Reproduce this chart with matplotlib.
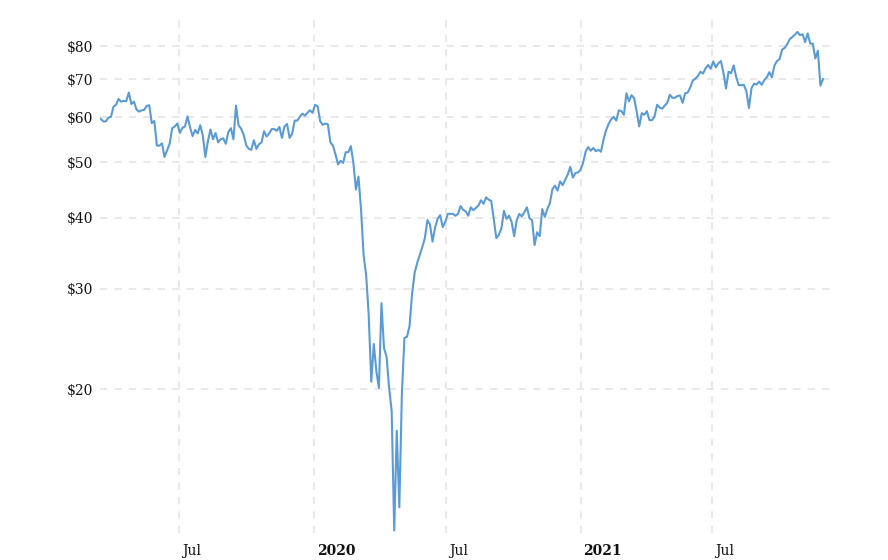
import numpy as np
import pandas as pd
import matplotlib
matplotlib.use('Agg')
import matplotlib.pyplot as plt
import matplotlib.dates as mdates
import matplotlib.ticker as mticker
from matplotlib.transforms import ScaledTranslation


## Data ==============================================
# WTI crude price (USD/bbl), one reading every 3.5 days (Fri, Mon/Tue)
start_date = '2019-03-15'

price_2019 = [59.6, 59.0, 59.0, 59.9, 60.1, 62.6, 63.1, 64.6, 63.9, 64.1,
              64.0, 66.3, 63.3, 63.9, 61.9, 61.4, 61.7, 61.8, 62.8, 63.0,
              58.6, 59.1, 53.5, 53.5, 54.0, 51.1, 52.5, 53.9, 57.4, 57.8,
              58.5, 56.3, 57.5, 57.8, 60.2, 57.6, 55.6, 57.0, 56.2, 58.1,
              55.7, 51.1, 54.5, 57.1, 54.9, 56.3, 54.2, 54.9, 55.1, 53.9,
              56.5, 57.4, 54.9, 62.9, 58.1, 57.3, 55.9, 53.6, 52.8, 52.6,
              54.7, 52.8, 53.8, 54.2, 56.7, 55.5, 56.2, 57.2, 57.2, 56.8,
              57.7, 55.2, 57.8, 58.4, 55.2, 56.1, 59.2, 59.2, 60.1, 60.9,
              60.4, 61.1, 61.7, 61.1]

price_2020 = [63.1, 62.7, 59.0, 58.2, 58.5, 58.3, 54.2, 53.5, 51.6, 49.6,
              50.3, 49.9, 52.1, 52.1, 53.4, 49.9, 44.8, 47.2, 41.3, 34.4,
              31.7, 27.0, 20.6, 24.0, 21.5, 20.1, 28.3, 23.6, 22.8, 20.1,
              18.3, 11.3, 16.9, 12.4, 19.6, 24.6, 24.7, 25.8, 29.4, 32.0,
              33.3, 34.4, 35.5, 36.8, 39.6, 38.9, 36.3, 38.4, 39.8, 40.4,
              38.5, 39.3, 40.6, 40.6, 40.6, 40.3, 40.6, 41.9, 41.3, 41.0,
              40.3, 41.7, 41.2, 41.6, 42.0, 42.9, 42.3, 43.4, 43.0, 42.8,
              39.8, 36.8, 37.3, 38.3, 41.1, 39.8, 40.3, 39.3, 37.1, 39.6,
              40.6, 40.2, 40.9, 41.7, 39.9, 39.6, 35.8, 37.7, 37.1, 41.4,
              40.1, 41.4, 42.4, 44.9, 45.5, 44.6, 46.3, 45.6, 46.6, 47.6,
              49.1, 47.0, 47.9, 48.0]

price_2021 = [48.5, 49.9, 52.2, 53.2, 52.4, 53.0, 52.3, 52.6, 52.2, 54.8,
              56.9, 58.4, 59.5, 60.1, 59.2, 61.7, 61.5, 60.6, 66.1, 64.0,
              65.6, 64.8, 61.4, 57.8, 61.0, 60.6, 61.5, 59.3, 59.3, 60.2,
              63.1, 62.4, 62.1, 62.9, 63.6, 65.7, 64.9, 64.9, 65.4, 65.5,
              63.6, 66.1, 66.3, 67.7, 69.6, 70.1, 70.9, 72.1, 71.6, 73.1,
              74.1, 73.0, 75.2, 73.4, 74.6, 75.3, 71.8, 67.4, 72.1, 71.7,
              74.0, 70.6, 68.3, 68.3, 68.4, 66.6, 62.3, 67.5, 68.7, 68.5,
              69.3, 68.4, 69.7, 70.5, 72.0, 70.5, 74.0, 75.3, 75.9, 78.9,
              79.4, 80.6, 82.3, 83.0, 83.8, 84.7, 83.6, 83.9, 81.3, 84.2,
              80.8, 80.8, 76.1, 78.5, 68.2, 70.0]

prices = np.array(price_2019 + price_2020 + price_2021)
dates = pd.date_range(start_date, periods=len(prices), freq='84h')

y_ticks = [20, 30, 40, 50, 60, 70, 80]
x_ticks = ['2019-07-01', '2020-01-01', '2020-07-01', '2021-01-01', '2021-07-01']
x_labels = ['Jul', '2020', 'Jul', '2021', 'Jul']


## Plot ==============================================
plt.rcParams['font.family'] = 'DejaVu Serif'

fig = plt.figure(figsize=(8.88, 5.6), dpi=100)
ax = fig.add_axes([100/888, 1 - 533/560, 735/888, 518/560])

ax.plot(dates, prices, color='#5b9bd5', lw=1.5)

ax.set_yscale('log')
ax.set_ylim(11.18, 90.7)
ax.set_xlim(pd.Timestamp('2019-03-14'), pd.Timestamp('2021-12-16'))

ax.yaxis.set_major_locator(mticker.FixedLocator(y_ticks))
ax.yaxis.set_minor_locator(mticker.NullLocator())
ax.set_yticklabels(['$%d' % v for v in y_ticks])

ax.set_xticks([mdates.date2num(pd.Timestamp(d)) for d in x_ticks])
ax.set_xticklabels(x_labels)
ax.xaxis.set_minor_locator(mticker.NullLocator())

ax.tick_params(axis='both', length=0, labelsize=10, colors='#111111')
ax.tick_params(axis='y', pad=5)
ax.tick_params(axis='x', pad=8)

shift = ScaledTranslation(3/100, 0, fig.dpi_scale_trans)
for lab in ax.get_xticklabels():
    lab.set_horizontalalignment('left')
    lab.set_transform(lab.get_transform() + shift)
    if lab.get_text().isdigit():
        lab.set_fontweight('bold')

ax.grid(True, color='#e6e6e6', lw=1.3, linestyle=(0, (4, 4)))
ax.set_axisbelow(True)
for s in ax.spines.values():
    s.set_visible(False)

fig.savefig('out.png', dpi=100)
